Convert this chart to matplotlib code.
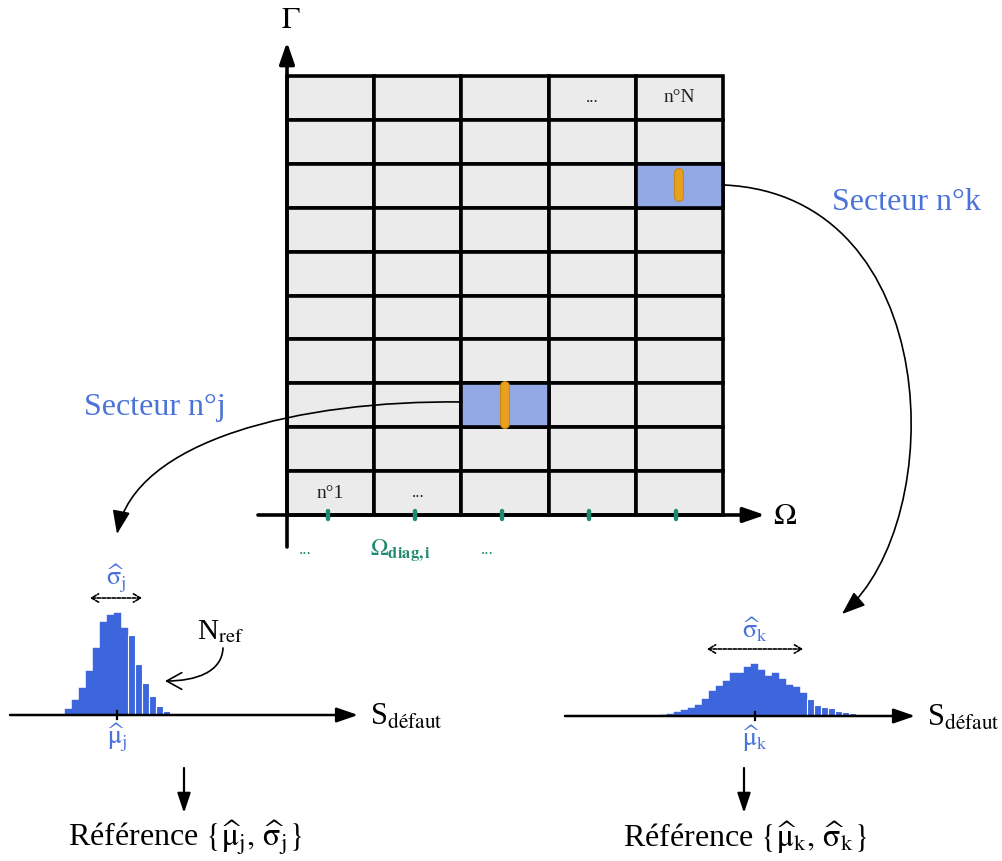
import matplotlib
matplotlib.use("Agg")
import matplotlib.pyplot as plt
import numpy as np
from matplotlib.patches import Rectangle, FancyArrowPatch
from matplotlib.path import Path

plt.rcParams["font.family"] = ["Liberation Serif", "DejaVu Serif"]
plt.rcParams["mathtext.fontset"] = "stix"

# grid of sectors (Omega x Gamma)
n_cols, n_rows = 5, 10
cell_labels = {(0, 9): "n°1", (1, 9): "...", (3, 0): "...", (4, 0): "n°N"}
highlight = {"j": (2, 7), "k": (4, 2)}
axis_labels = {"x": r"$\Omega$", "y": r"$\Gamma$"}
diag_labels = ["...", r"$\Omega_{\mathbf{diag,i}}$", "..."]

# histogram bar heights (pixels) for sector j and sector k
hist_j = [6, 15, 27, 44, 67, 93, 100, 102, 87, 80, 51, 32, 19, 9, 4]
hist_k = [1, 2, 4, 6, 8, 11, 17, 25, 30, 35, 43, 43, 49, 52, 46, 40, 43, 37,
          31, 29, 23, 17, 11, 9, 8, 5, 4, 3]
split_j, split_k = 9, 21   # bars after this index drawn with white separators

BLUE = "#3d66dc"
LBLUE = "#4a72d8"
TEAL = "#1f8a70"
CELL = "#ebebeb"
HL = "#93a9e6"
ORANGE = "#e8a11e"

fig = plt.figure(figsize=(10.03, 8.61), dpi=100)
ax = fig.add_axes([0, 0, 1, 1])
ax.set_xlim(0, 1003)
ax.set_ylim(861, 0)
ax.axis("off")

# ---- grid
x0, x1, y0, y1 = 287, 723, 76, 515
cw = (x1 - x0) / n_cols
ch = (y1 - y0) / n_rows
for c in range(n_cols):
    for r in range(n_rows):
        ax.add_patch(Rectangle((x0 + c * cw, y0 + r * ch), cw, ch, fc=CELL,
                               ec="black", lw=2.6, zorder=1))
for key, (c, r) in highlight.items():
    ax.add_patch(Rectangle((x0 + c * cw, y0 + r * ch), cw, ch, fc=HL,
                           ec="black", lw=2.6, zorder=2))
    xc = x0 + (c + 0.5) * cw
    if key == "j":
        ya, yb = y0 + r * ch + 3, y0 + (r + 1) * ch - 3
    else:
        ya, yb = y0 + r * ch + 9, y0 + (r + 1) * ch - 11
    ax.plot([xc, xc], [ya, yb], color="#c98a10", lw=7.2, solid_capstyle="round", zorder=3)
    ax.plot([xc, xc], [ya, yb], color=ORANGE, lw=5.6, solid_capstyle="round", zorder=4)
for (c, r), s in cell_labels.items():
    ax.text(x0 + (c + 0.5) * cw, y0 + (r + 0.5) * ch, s, ha="center", va="center",
            fontsize=14 if "n" in s else 12, color="#222222", zorder=5)

# ---- axes of the grid
ax.annotate("", xy=(765, y1), xytext=(258, y1),
            arrowprops=dict(arrowstyle="-|>,head_length=1.3,head_width=0.45",
                            color="black", lw=2.6, shrinkA=0, shrinkB=0), zorder=6)
ax.annotate("", xy=(x0, 42), xytext=(x0, 547),
            arrowprops=dict(arrowstyle="-|>,head_length=1.3,head_width=0.45",
                            color="black", lw=2.6, shrinkA=0, shrinkB=0), zorder=6)
ax.text(785, 517, axis_labels["x"], fontsize=22, ha="center", va="center")
ax.text(291, 20, axis_labels["y"], fontsize=22, ha="center", va="center")
for c in range(n_cols):
    xc = x0 + (c + 0.5) * cw - 3
    ax.plot([xc, xc], [y1 - 4, y1 + 4], color=TEAL, lw=3.2, solid_capstyle="round", zorder=7)
for xs, s in zip([305, 400, 487], diag_labels):
    ax.text(xs, 550, s, fontsize=17 if "Omega" in s else 12, color=TEAL,
            ha="center", va="center")

# ---- sector labels and connectors
ax.text(906, 203, "Secteur n°k", fontsize=23, color=LBLUE, ha="center", va="center")
ax.text(155, 408, "Secteur n°j", fontsize=23, color=LBLUE, ha="center", va="center")


def curve(pts, style):
    path = Path(pts, [Path.MOVETO, Path.CURVE4, Path.CURVE4, Path.CURVE4])
    ax.add_patch(FancyArrowPatch(path=path, arrowstyle=style,
                                 color="black", lw=1.2, mutation_scale=12, zorder=8))


curve([(724, 185), (945, 195), (950, 520), (842, 614)], "-|>,head_length=1.2,head_width=0.45")
curve([(462, 402), (300, 400), (135, 440), (117, 534)], "-|>,head_length=1.2,head_width=0.45")


# ---- histograms
def histogram(heights, xstart, base, split, mu_x, sig, label, axis_range, ref_x):
    w = 7.0
    xs = xstart + w * np.arange(len(heights))
    h = np.array(heights, dtype=float)
    ax.bar(xs[:split], -h[:split], width=w, bottom=base, align="edge", color=BLUE,
           edgecolor=BLUE, lw=0.3, zorder=3)
    ax.bar(xs[split:], -h[split:], width=w, bottom=base, align="edge", color=BLUE,
           edgecolor="white", lw=0.8, zorder=3)
    ax.annotate("", xy=(axis_range[1], base), xytext=(axis_range[0], base),
                arrowprops=dict(arrowstyle="-|>,head_length=1.3,head_width=0.45",
                                color="black", lw=1.8, shrinkA=0, shrinkB=0), zorder=6)
    ax.plot([mu_x, mu_x], [base - 4, base + 4], color="black", lw=1.6, zorder=7)
    ax.text(axis_range[1] + 12, base + 2, r"S$_{\mathrm{défaut}}$", fontsize=22,
            ha="left", va="center")
    ax.text(mu_x, base + 23, r"$\widehat{\mathrm{\mu}}_{\mathrm{%s}}$" % label,
            fontsize=19, color=LBLUE, ha="center", va="center")
    ax.annotate("", xy=(sig[0], sig[2]), xytext=(sig[1], sig[2]),
                arrowprops=dict(arrowstyle="<->,head_length=0.5,head_width=0.3",
                                color="black", lw=1.2, ls=(0, (2, 1)),
                                shrinkA=0, shrinkB=0), zorder=7)
    ax.text((sig[0] + sig[1]) / 2, sig[2] - 19,
            r"$\widehat{\mathrm{\sigma}}_{\mathrm{%s}}$" % label,
            fontsize=19, color=LBLUE, ha="center", va="center")
    ax.annotate("", xy=(ref_x, 813), xytext=(ref_x, 768),
                arrowprops=dict(arrowstyle="-|>,head_length=1.2,head_width=0.4",
                                color="black", lw=1.6, shrinkA=0, shrinkB=0))
    ax.text(ref_x + 1, 838,
            r"Référence $\{\widehat{\mathrm{\mu}}_{\mathrm{%s}},\,\widehat{\mathrm{\sigma}}_{\mathrm{%s}}\}$"
            % (label, label), fontsize=23, ha="center", va="center")


histogram(hist_j, 65, 715, split_j, 117, (90, 142, 598), "j", (10, 358), 184)
histogram(hist_k, 660, 716, split_k, 755, (707, 803, 649), "k", (565, 915), 744)

ax.text(221, 632, r"N$_{\mathrm{ref}}$", fontsize=21, ha="center", va="center")
curve([(223, 648), (222, 672), (196, 681), (165, 681)], "->,head_length=0.9,head_width=0.5")

fig.savefig("out.png", dpi=100)
